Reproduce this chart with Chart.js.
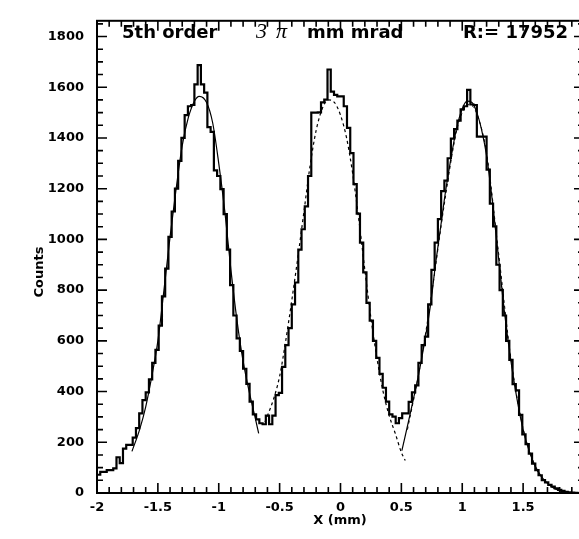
<!DOCTYPE html>
<html>
<head>
<meta charset="utf-8">
<script src="https://cdn.jsdelivr.net/npm/chart.js@4.4.1/dist/chart.umd.min.js"></script>
<style>
  html, body { margin: 0; padding: 0; background: #fff; }
  #wrap { width: 579px; height: 539px; position: relative; }
</style>
</head>
<body>
<div id="wrap"><canvas id="c"></canvas></div>
<script>
// histogram: 150 bins from -2 to 2
const X_MIN = -2;
const X_MAX = 2;
const X_VIEW_MAX = 1.959;   // right side of the frame is cropped off
const Y_MAX = 1862;
const BIN_W = (X_MAX - X_MIN) / 150;

const counts = [
  72, 83, 83, 90, 90, 97, 141, 118, 175, 190,
  190, 218, 256, 314, 366, 397, 448, 513, 564, 660,
  775, 885, 1010, 1110, 1200, 1310, 1400, 1490, 1525, 1530,
  1611, 1687, 1611, 1579, 1443, 1424, 1272, 1250, 1198, 1100,
  960, 820, 700, 610, 560, 490, 430, 360, 310, 290,
  275, 271, 305, 271, 305, 386, 395, 497, 583, 650,
  744, 830, 960, 1040, 1130, 1250, 1500, 1500, 1501, 1540,
  1551, 1670, 1583, 1570, 1564, 1564, 1525, 1440, 1340, 1218,
  1102, 987, 870, 750, 680, 600, 533, 470, 415, 360,
  310, 301, 275, 295, 314, 314, 359, 397, 424, 513,
  583, 617, 744, 880, 987, 1080, 1190, 1232, 1320, 1397,
  1435, 1468, 1513, 1525, 1590, 1532, 1530, 1405, 1405, 1405,
  1275, 1141, 1051, 900, 800, 700, 600, 525, 429, 405,
  308, 231, 193, 155, 116, 90, 70, 51, 42, 32,
  25, 18, 12, 8, 5, 3, 2, 1, 0, 0
];

// fitted curves
const fit1X = [-1.713, -1.65, -1.6, -1.55, -1.5, -1.45, -1.4, -1.35, -1.3, -1.25, -1.2, -1.16, -1.1, -1.05, -1.0, -0.95, -0.9, -0.85, -0.8, -0.75, -0.7, -0.672];
const fit1Y = [164, 250, 340, 460, 600, 800, 1010, 1200, 1370, 1480, 1545, 1564, 1540, 1460, 1300, 1110, 880, 680, 520, 400, 295, 235];

const fit2X = [-0.62, -0.55, -0.5, -0.45, -0.4, -0.35, -0.3, -0.25, -0.2, -0.15, -0.1, -0.05, 0.0, 0.05, 0.1, 0.15, 0.2, 0.25, 0.3, 0.35, 0.4, 0.45, 0.5, 0.532];
const fit2Y = [280, 370, 460, 600, 760, 930, 1110, 1290, 1430, 1515, 1550, 1540, 1490, 1400, 1260, 1080, 880, 690, 530, 400, 305, 235, 160, 128];

const fit3X = [0.504, 0.576, 0.66, 0.74, 0.78, 0.82, 0.86, 0.9, 0.95, 1.0, 1.04, 1.08, 1.12, 1.16, 1.2, 1.25, 1.3, 1.35, 1.4, 1.45, 1.5, 1.55, 1.6, 1.65, 1.7, 1.75, 1.8, 1.85, 1.9, 1.96];
const fit3Y = [167, 320, 513, 744, 900, 1040, 1180, 1300, 1430, 1515, 1545, 1540, 1500, 1430, 1330, 1140, 920, 700, 520, 370, 250, 165, 105, 65, 38, 20, 10, 4, 1, 0];

const fit4X = [0.55, 0.65, 0.75, 0.85, 0.95, 1.0, 1.06, 1.12, 1.2, 1.3, 1.4, 1.5, 1.6, 1.7, 1.8, 1.9];
const fit4Y = [250, 490, 790, 1130, 1420, 1500, 1532, 1495, 1340, 940, 530, 255, 105, 38, 10, 1];

const xTicks = [-2, -1.5, -1, -0.5, 0, 0.5, 1, 1.5];
const yTicks = [0, 200, 400, 600, 800, 1000, 1200, 1400, 1600, 1800];
const X_MINOR = 0.1;
const Y_MINOR = 50;

const histPoints = counts.map((c, i) => ({ x: X_MIN + i * BIN_W, y: c }));
histPoints.push({ x: X_MAX, y: counts[counts.length - 1] });

const toPts = (xs, ys) => xs.map((x, i) => ({ x: x, y: ys[i] }));

const BOLD = 'DejaVu Sans';

// frame with inward ticks on all four sides
const framePlugin = {
  id: 'frame',
  afterDatasetsDraw(chart) {
    const { ctx, chartArea: a, scales: { x, y } } = chart;
    const right = x.getPixelForValue(X_MAX);
    ctx.save();
    ctx.strokeStyle = '#000';
    ctx.lineWidth = 2;
    ctx.strokeRect(a.left, a.top, right - a.left, a.bottom - a.top);
    ctx.lineWidth = 1.6;
    ctx.beginPath();
    const nx = Math.round((X_MAX - X_MIN) / X_MINOR);
    for (let k = 0; k <= nx; k++) {
      const px = x.getPixelForValue(X_MIN + k * X_MINOR);
      const len = k % 5 === 0 ? 10 : 6;
      ctx.moveTo(px, a.bottom); ctx.lineTo(px, a.bottom - len);
      ctx.moveTo(px, a.top); ctx.lineTo(px, a.top + len);
    }
    const ny = Math.floor(Y_MAX / Y_MINOR);
    for (let k = 0; k <= ny; k++) {
      const py = y.getPixelForValue(k * Y_MINOR);
      const len = k % 4 === 0 ? 10 : 6;
      ctx.moveTo(a.left, py); ctx.lineTo(a.left + len, py);
      ctx.moveTo(right, py); ctx.lineTo(right - len, py);
    }
    ctx.stroke();
    ctx.restore();
  },
  afterDraw(chart) {
    const ctx = chart.ctx;
    ctx.save();
    ctx.fillStyle = '#000';
    ctx.textBaseline = 'alphabetic';
    ctx.textAlign = 'left';
    ctx.font = 'bold 18px "' + BOLD + '"';
    ctx.fillText('5th order', 122, 38);
    ctx.fillText('mm mrad', 307, 38);
    ctx.fillText('R:= 17952', 463, 38);
    ctx.font = 'italic 22px "Liberation Serif"';
    ctx.fillText('3', 256, 38);
    ctx.fillText('\u03c0', 276, 38);

    ctx.font = 'bold 13px "' + BOLD + '"';
    ctx.textAlign = 'center';
    ctx.textBaseline = 'middle';
    ctx.fillText('X (mm)', 340, 521);
    ctx.translate(40, 272);
    ctx.rotate(-Math.PI / 2);
    ctx.fillText('Counts', 0, 0);
    ctx.restore();
  }
};

const tickFont = { family: BOLD, weight: 'bold', size: 13 };

new Chart(document.getElementById('c'), {
  type: 'line',
  data: {
    datasets: [
      {
        label: 'Counts',
        data: histPoints,
        stepped: 'before',
        borderColor: '#000',
        borderWidth: 2.2,
        pointRadius: 0,
        fill: false
      },
      {
        label: 'fit 1',
        data: toPts(fit1X, fit1Y),
        borderColor: '#000',
        borderWidth: 1.2,
        pointRadius: 0,
        cubicInterpolationMode: 'monotone',
        fill: false
      },
      {
        label: 'fit 2',
        data: toPts(fit2X, fit2Y),
        borderColor: '#000',
        borderWidth: 1.2,
        borderDash: [3, 3],
        pointRadius: 0,
        cubicInterpolationMode: 'monotone',
        fill: false
      },
      {
        label: 'fit 3',
        data: toPts(fit3X, fit3Y),
        borderColor: '#000',
        borderWidth: 1.2,
        pointRadius: 0,
        cubicInterpolationMode: 'monotone',
        fill: false
      },
      {
        label: 'fit 3b',
        data: toPts(fit4X, fit4Y),
        borderColor: '#000',
        borderWidth: 1,
        borderDash: [3, 3],
        pointRadius: 0,
        cubicInterpolationMode: 'monotone',
        fill: false
      }
    ]
  },
  options: {
    responsive: true,
    maintainAspectRatio: false,
    devicePixelRatio: 1,
    animation: false,
    layout: { padding: { top: 9, right: 0, bottom: 0, left: 0 } },
    plugins: {
      legend: { display: false },
      tooltip: { enabled: false }
    },
    scales: {
      x: {
        type: 'linear',
        min: X_MIN,
        max: X_VIEW_MAX,
        afterBuildTicks: s => { s.ticks = xTicks.map(v => ({ value: v })); },
        afterFit: s => { s.height = 46; },
        grid: { display: false, drawTicks: false },
        border: { display: false },
        ticks: {
          color: '#000',
          font: tickFont,
          padding: 7,
          maxRotation: 0,
          autoSkip: false,
          callback: v => String(v)
        }
      },
      y: {
        type: 'linear',
        min: 0,
        max: Y_MAX,
        afterBuildTicks: s => { s.ticks = yTicks.map(v => ({ value: v })); },
        afterFit: s => { s.width = 97; },
        grid: { display: false, drawTicks: false },
        border: { display: false },
        ticks: {
          color: '#000',
          font: tickFont,
          padding: 13,
          autoSkip: false,
          callback: v => String(v)
        }
      }
    }
  },
  plugins: [framePlugin]
});
</script>
</body>
</html>
